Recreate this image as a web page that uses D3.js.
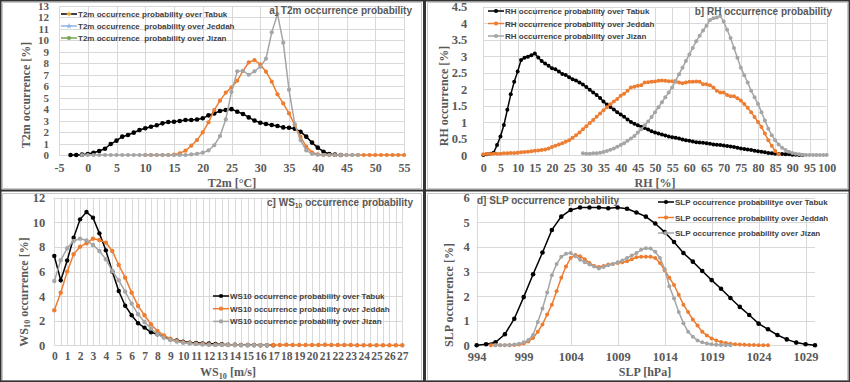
<!DOCTYPE html>
<html>
<head>
<meta charset="utf-8">
<script src="https://cdn.jsdelivr.net/npm/d3@7/dist/d3.min.js"></script>
<style>
  body { margin: 0; background: #fff; }
</style>
</head>
<body>
<div id="chart-area"></div>
<script>
// ---- a) T2m (one point per degree) ----
var t2mTicks = [-5, 0, 5, 10, 15, 20, 25, 30, 35, 40, 45, 50, 55];
var t2mYTicks = [0, 1, 2, 3, 4, 5, 6, 7, 8, 9, 10, 11, 12, 13];
var t2mTabukStart = -3;
var t2mTabuk = [0, 0, 0.03, 0.08, 0.2, 0.35, 0.55, 0.96, 1.25, 1.6, 1.74, 1.95, 2.18, 2.33, 2.47, 2.6, 2.76,
  2.88, 2.9, 2.97, 3.05, 3.05, 3.1, 3.2, 3.46, 3.63, 3.84, 3.92, 4.0, 3.78, 3.58, 3.28, 3.0, 2.82, 2.7,
  2.62, 2.53, 2.41, 2.38, 2.3, 2.03, 1.6, 1.08, 0.64, 0.29, 0.09, 0.03, 0];
var t2mJeddahStart = 10;
var t2mJeddah = [0, 0, 0, 0, 0, 0.03, 0.15, 0.38, 0.81, 1.3, 1.98, 2.85, 3.92, 4.74, 5.44, 5.9, 6.48, 7.33,
  8.08, 8.28, 7.9, 7.27, 6.4, 5.29, 4.5, 3.63, 2.62, 1.6, 0.73, 0.23, 0.06, 0, 0, 0, 0, 0, 0, 0, 0, 0, 0,
  0, 0, 0, 0, 0];
var t2mJizanStart = -1;
var t2mJizan = [0, 0, 0, 0, 0, 0, 0, 0, 0, 0, 0, 0, 0, 0, 0, 0, 0, 0, 0, 0.05, 0.1, 0.2, 0.4, 0.85, 1.65,
  3.1, 5.5, 7.3, 7.35, 7.0, 7.3, 7.7, 8.4, 10.7, 12.3, 9.8, 5.7, 2.7, 1.3, 0.4, 0.1, 0.03, 0, 0, 0, 0, 0, 0, 0];

// ---- b) RH (one point per percent) ----
var rhTicks = [0, 5, 10, 15, 20, 25, 30, 35, 40, 45, 50, 55, 60, 65, 70, 75, 80, 85, 90, 95, 100];
var rhYTicks = [0, 0.5, 1, 1.5, 2, 2.5, 3, 3.5, 4, 4.5];
var rhTabukStart = 0;
var rhTabuk = [0, 0.02, 0.04, 0.07, 0.3, 0.56, 0.91, 1.37, 1.84, 2.22, 2.53, 2.88, 2.95, 2.98, 3.03, 3.08,
  2.96, 2.85, 2.78, 2.71, 2.63, 2.6, 2.53, 2.46, 2.43, 2.36, 2.3, 2.26, 2.2, 2.14, 2.06, 1.98, 1.9, 1.82,
  1.73, 1.62, 1.53, 1.46, 1.38, 1.3, 1.23, 1.16, 1.08, 1.0, 0.95, 0.9, 0.86, 0.82, 0.77, 0.72, 0.68, 0.65,
  0.62, 0.59, 0.56, 0.54, 0.52, 0.5, 0.47, 0.45, 0.43, 0.41, 0.39, 0.38, 0.37, 0.36, 0.34, 0.32, 0.31, 0.3,
  0.29, 0.27, 0.26, 0.24, 0.22, 0.2, 0.18, 0.17, 0.15, 0.13, 0.11, 0.1, 0.08, 0.06, 0.05, 0.04, 0.03, 0.03,
  0.02, 0.02, 0.01, 0.01, 0, 0];
var rhJeddahStart = 0;
var rhJeddah = [0.02, 0.03, 0.03, 0.04, 0.04, 0.04, 0.05, 0.05, 0.06, 0.06, 0.07, 0.08, 0.09, 0.1, 0.11,
  0.13, 0.14, 0.15, 0.17, 0.2, 0.24, 0.28, 0.32, 0.36, 0.4, 0.45, 0.52, 0.6, 0.68, 0.78, 0.87, 0.97, 1.06,
  1.16, 1.26, 1.36, 1.45, 1.54, 1.62, 1.7, 1.8, 1.86, 1.95, 2.05, 2.07, 2.1, 2.12, 2.2, 2.21, 2.22, 2.23,
  2.25, 2.26, 2.25, 2.24, 2.24, 2.22, 2.2, 2.18, 2.2, 2.22, 2.22, 2.23, 2.22, 2.15, 2.15, 2.12, 2.05, 1.95,
  1.9, 1.9, 1.82, 1.78, 1.78, 1.72, 1.65, 1.55, 1.43, 1.3, 1.15, 1.0, 0.85, 0.65, 0.45, 0.28, 0.12, 0.02];
var rhJizanStart = 29;
var rhJizan = [0.05, 0.04, 0.04, 0.05, 0.05, 0.07, 0.09, 0.12, 0.16, 0.2, 0.25, 0.3, 0.36, 0.43, 0.5, 0.58,
  0.68, 0.78, 0.9, 1.02, 1.15, 1.3, 1.45, 1.6, 1.75, 1.9, 2.05, 2.25, 2.45, 2.65, 2.85, 3.05, 3.25, 3.45,
  3.62, 3.78, 3.92, 4.1, 4.15, 4.17, 4.22, 4.05, 3.8, 3.55, 3.25, 2.95, 2.65, 2.42, 2.2, 1.95, 1.75, 1.55,
  1.3, 1.05, 0.8, 0.6, 0.45, 0.32, 0.22, 0.15, 0.1, 0.06, 0.04, 0.02, 0.01, 0, 0, 0, 0, 0, 0, 0];

// ---- c) WS10 (one point per 0.5 m/s) ----
var wsTicks = [0, 1, 2, 3, 4, 5, 6, 7, 8, 9, 10, 11, 12, 13, 14, 15, 16, 17, 18, 19, 20, 21, 22, 23, 24, 25, 26, 27];
var wsYTicks = [0, 2, 4, 6, 8, 10, 12];
var wsTabuk = [7.26, 5.28, 6.9, 8.75, 10.24, 10.84, 10.38, 9.1, 7.72, 6.0, 4.42, 3.22, 2.44, 1.79, 1.44,
  1.06, 0.9, 0.7, 0.5, 0.4, 0.3, 0.22, 0.2, 0.16, 0.15, 0.1, 0.08, 0.05, 0.04, 0.03, 0.02, 0.02, 0.01, 0.01, 0];
var wsJeddah = [2.85, 4.28, 5.99, 7.4, 8.02, 8.29, 8.67, 8.56, 8.35, 7.67, 6.53, 5.5, 4.28, 3.2, 2.44, 1.71,
  1.17, 0.81, 0.54, 0.35, 0.25, 0.18, 0.12, 0.1, 0.07, 0.05, 0.04, 0.03, 0.02, 0.02, 0.01, 0.01, 0.01, 0,
  0.03, 0.03, 0.04, 0.03, 0.03, 0.02, 0.02, 0.03, 0.04, 0.02, 0.02, 0.02, 0.02, 0.01, 0.01, 0.01, 0.01, 0,
  0, 0, 0];
var wsJizan = [5.23, 6.91, 7.89, 8.48, 8.67, 8.53, 8.16, 7.67, 6.99, 6.04, 5.28, 4.36, 3.39, 2.52, 1.9,
  1.36, 0.9, 0.62, 0.43, 0.3, 0.2, 0.15, 0.1, 0.07, 0.05, 0.03, 0.02, 0.02, 0.01, 0.01, 0, 0, 0, 0];

// ---- d) SLP (Tabuk per 1 hPa, Jeddah/Jizan per 0.5 hPa) ----
var slpTicks = [994, 999, 1004, 1009, 1014, 1019, 1024, 1029];
var slpYTicks = [0, 1, 2, 3, 4, 5, 6];
var slpTabukStart = 994;
var slpTabuk = [0, 0.04, 0.12, 0.45, 1.08, 1.96, 2.89, 3.77, 4.69, 5.23, 5.5, 5.6, 5.6, 5.6, 5.57, 5.6,
  5.55, 5.4, 5.23, 4.95, 4.6, 4.2, 3.75, 3.4, 3.02, 2.65, 2.3, 1.92, 1.56, 1.23, 0.88, 0.65, 0.42, 0.24,
  0.11, 0.04, 0];
var slpJeddahStart = 995.5;
var slpJeddah = [0, 0, 0, 0, 0, 0.01, 0.03, 0.07, 0.15, 0.3, 0.55, 0.85, 1.25, 1.65, 2.2, 2.75, 3.2, 3.55,
  3.67, 3.62, 3.5, 3.35, 3.22, 3.18, 3.22, 3.28, 3.3, 3.35, 3.38, 3.42, 3.5, 3.58, 3.6, 3.6, 3.6, 3.55,
  3.35, 3.05, 2.75, 2.45, 2.05, 1.65, 1.35, 1.05, 0.8, 0.55, 0.4, 0.28, 0.2, 0.13, 0.09, 0.06, 0.04, 0.03,
  0.02, 0.01, 0.01, 0, 0, 0];
var slpJizanStart = 996;
var slpJizan = [0, 0, 0, 0.01, 0.03, 0.06, 0.12, 0.22, 0.42, 0.95, 1.5, 2.15, 2.85, 3.3, 3.6, 3.72, 3.75,
  3.62, 3.48, 3.38, 3.28, 3.2, 3.12, 3.18, 3.25, 3.3, 3.38, 3.45, 3.55, 3.65, 3.75, 3.88, 3.95, 3.93, 3.8,
  3.55, 3.1, 2.4, 1.9, 1.35, 0.9, 0.55, 0.35, 0.2, 0.12, 0.07, 0.04, 0.02, 0.01, 0, 0];

var BLACK = '#000000', ORANGE = '#ED7D31', GRAY = '#A5A5A5';
var TEXT = '#595959', GRID = '#d9d9d9';
var serif = '"Liberation Serif", "Times New Roman", serif';
var sans = '"Liberation Sans", Arial, sans-serif';

var svg = d3.select('#chart-area')
  .append('svg')
    .attr('width', 850)
    .attr('height', 382)
    .style('display', 'block');

svg.append('rect').attr('width', 850).attr('height', 382).attr('fill', '#fff');

var panels = [
  {
    box: [2, 2, 419, 186],
    xDomain: [-5, 55], xRange: [59, 404], yDomain: [0, 13], yRange: [155, 6],
    xTicks: t2mTicks, yTicks: t2mYTicks, xGrid: t2mTicks, yGrid: t2mYTicks,
    xPad: 8, yPad: 10, xTickSize: 12, yTickSize: 11,
    yTitle: [{ t: 'T2m occurrence [%]' }], yTitlePos: [27, 95],
    xTitle: [{ t: 'T2m [°C]' }], xTitlePos: [232, 187],
    title: [{ t: 'a] T2m occurrence probability' }], titlePos: [412, 14], titleAnchor: 'end',
    series: [
      { name: 'T2m occurrence probability over Tabuk', start: t2mTabukStart, step: 1, values: t2mTabuk, color: BLACK, r: 2.3 },
      { name: 'T2m occurrence  probability over Jeddah', start: t2mJeddahStart, step: 1, values: t2mJeddah, color: ORANGE, r: 2.1 },
      { name: 'T2m occurrence  probability over Jizan', start: t2mJizanStart, step: 1, values: t2mJizan, color: GRAY, r: 2.1 }
    ],
    legend: { x: 61, y: 14, dy: 12, len: 16,
      lineColors: ['#000000', '#8FB4E3', '#77A353'],
      markColors: ['#F2B134', '#8FB4E3', '#77A353'],
      marks: ['cross', 'star', 'circle'] }
  },
  {
    box: [427, 2, 420, 186],
    xDomain: [0, 100], xRange: [483.3, 826.7], yDomain: [0, 4.5], yRange: [155, 6.7],
    xTicks: rhTicks, yTicks: rhYTicks, xGrid: rhTicks, yGrid: rhYTicks,
    xPad: 8, yPad: 16, xTickSize: 12, yTickSize: 12.5,
    yTitle: [{ t: 'RH occurrence [%]' }], yTitlePos: [445, 96],
    xTitle: [{ t: 'RH [%]' }], xTitlePos: [655, 187],
    title: [{ t: 'b] RH occurrence probability' }], titlePos: [832, 15], titleAnchor: 'end',
    series: [
      { name: 'RH occurrence probability over Tabuk', start: rhTabukStart, step: 1, values: rhTabuk, color: BLACK, r: 2 },
      { name: 'RH occurrence probability over Jeddah', start: rhJeddahStart, step: 1, values: rhJeddah, color: ORANGE, r: 2 },
      { name: 'RH occurrence probability over Jizan', start: rhJizanStart, step: 1, values: rhJizan, color: GRAY, r: 2 }
    ],
    legend: { x: 488, y: 11, dy: 12.5, len: 16 }
  },
  {
    box: [2, 193, 419, 187],
    xDomain: [0, 27], xRange: [54.3, 402.3], yDomain: [0, 12], yRange: [345.3, 197.7],
    xTicks: wsTicks, yTicks: wsYTicks, xGrid: d3.range(0, 27.01, 0.5), yGrid: wsYTicks,
    xPad: 7, yPad: 9, xTickSize: 11.5, yTickSize: 12.5,
    yTitle: [{ t: 'WS' }, { t: '10', sub: true }, { t: ' occurrence [%]' }], yTitlePos: [25, 292],
    xTitle: [{ t: 'WS' }, { t: '10', sub: true }, { t: ' [m/s]' }], xTitlePos: [228, 376],
    title: [{ t: 'c] WS' }, { t: '10', sub: true }, { t: ' occurrence probability' }], titlePos: [413, 206], titleAnchor: 'end',
    series: [
      { name: 'WS10 occurrence probability over Tabuk', start: 0, step: 0.5, values: wsTabuk, color: BLACK, r: 2.2 },
      { name: 'WS10 occurrence probability over Jeddah', start: 0, step: 0.5, values: wsJeddah, color: ORANGE, r: 2.2 },
      { name: 'WS10 occurrence probability over Jizan', start: 0, step: 0.5, values: wsJizan, color: GRAY, r: 2.2 }
    ],
    legend: { x: 213, y: 296, dy: 12.7, len: 16 }
  },
  {
    box: [427, 193, 420, 187],
    xDomain: [994, 1030], xRange: [476.7, 815], yDomain: [0, 6], yRange: [345.3, 197.7],
    xTicks: slpTicks, yTicks: slpYTicks, xGrid: slpTicks, yGrid: slpYTicks,
    xPad: 7, yPad: 7, xTickSize: 12.5, yTickSize: 12.5,
    yTitle: [{ t: 'SLP occurrence [%]' }], yTitlePos: [450, 295],
    xTitle: [{ t: 'SLP [hPa]' }], xTitlePos: [645, 376],
    title: [{ t: 'd] SLP occurrence probability' }], titlePos: [477, 204], titleAnchor: 'start',
    series: [
      { name: 'SLP occurrence probabilitye over Tabuk', start: slpTabukStart, step: 1, values: slpTabuk, color: BLACK, r: 2.3 },
      { name: 'SLP occurrence probability over Jeddah', start: slpJeddahStart, step: 0.5, values: slpJeddah, color: ORANGE, r: 2 },
      { name: 'SLP occurrence probability over Jizan', start: slpJizanStart, step: 0.5, values: slpJizan, color: GRAY, r: 2 }
    ],
    legend: { x: 658, y: 202, dy: 15.5, len: 16 }
  }
];

// text with optional subscript pieces
function richText(sel, parts, size) {
  var shifted = false;
  parts.forEach(function(p) {
    var ts = sel.append('tspan').text(p.t);
    if (p.sub) {
      ts.attr('font-size', size * 0.68).attr('dy', size * 0.22);
      shifted = true;
    } else if (shifted) {
      ts.attr('dy', -size * 0.22);
      shifted = false;
    }
  });
}

panels.forEach(function(p) {
  var g = svg.append('g');

  g.append('rect')
    .attr('x', p.box[0] + 0.5).attr('y', p.box[1] + 0.5)
    .attr('width', p.box[2]).attr('height', p.box[3])
    .attr('fill', 'none').attr('stroke', '#c8c8c8');

  var x = d3.scaleLinear().domain(p.xDomain).range(p.xRange);
  var y = d3.scaleLinear().domain(p.yDomain).range(p.yRange);

  // gridlines
  g.selectAll('.hgrid').data(p.yGrid).enter().append('line')
    .attr('x1', p.xRange[0]).attr('x2', p.xRange[1])
    .attr('y1', function(d) { return Math.round(y(d)) + 0.5; })
    .attr('y2', function(d) { return Math.round(y(d)) + 0.5; })
    .attr('stroke', GRID).attr('stroke-width', 1);
  g.selectAll('.vgrid').data(p.xGrid).enter().append('line')
    .attr('x1', function(d) { return Math.round(x(d)) + 0.5; })
    .attr('x2', function(d) { return Math.round(x(d)) + 0.5; })
    .attr('y1', p.yRange[1]).attr('y2', p.yRange[0])
    .attr('stroke', GRID).attr('stroke-width', 1);

  // axes
  var xAxisCall = d3.axisBottom(x).tickValues(p.xTicks).tickSize(0).tickPadding(p.xPad)
    .tickFormat(function(d) { return d; });
  g.append('g')
    .attr('class', 'x-axis')
    .attr('transform', 'translate(0,' + p.yRange[0] + ')')
    .call(xAxisCall)
    .call(function(a) { a.select('.domain').remove(); })
    .selectAll('text')
      .attr('fill', TEXT).attr('font-family', serif).attr('font-weight', 'bold')
      .attr('font-size', p.xTickSize);

  var yAxisCall = d3.axisLeft(y).tickValues(p.yTicks).tickSize(0).tickPadding(p.yPad)
    .tickFormat(function(d) { return d; });
  g.append('g')
    .attr('class', 'y-axis')
    .attr('transform', 'translate(' + p.xRange[0] + ',0)')
    .call(yAxisCall)
    .call(function(a) { a.select('.domain').remove(); })
    .selectAll('text')
      .attr('fill', TEXT).attr('font-family', serif).attr('font-weight', 'bold')
      .attr('font-size', p.yTickSize);

  // axis titles
  var yt = g.append('text')
    .attr('transform', 'translate(' + p.yTitlePos[0] + ',' + p.yTitlePos[1] + ') rotate(-90)')
    .attr('text-anchor', 'middle').attr('dominant-baseline', 'middle')
    .attr('fill', TEXT).attr('font-family', serif).attr('font-weight', 'bold').attr('font-size', 12);
  richText(yt, p.yTitle, 12);
  var xt = g.append('text')
    .attr('x', p.xTitlePos[0]).attr('y', p.xTitlePos[1])
    .attr('text-anchor', 'middle')
    .attr('fill', TEXT).attr('font-family', serif).attr('font-weight', 'bold').attr('font-size', 12);
  richText(xt, p.xTitle, 12);

  // series
  var line = d3.line().x(function(d) { return x(d.x); }).y(function(d) { return y(d.y); });
  p.series.forEach(function(s) {
    var pts = s.values.map(function(v, i) { return { x: s.start + i * s.step, y: v }; });
    g.append('path').datum(pts)
      .attr('d', line).attr('fill', 'none')
      .attr('stroke', s.color).attr('stroke-width', 1.5);
    g.append('g').selectAll('circle').data(pts).enter().append('circle')
      .attr('cx', function(d) { return x(d.x); })
      .attr('cy', function(d) { return y(d.y); })
      .attr('r', s.r).attr('fill', s.color);
  });

  // panel title
  var tt = g.append('text')
    .attr('x', p.titlePos[0]).attr('y', p.titlePos[1])
    .attr('text-anchor', p.titleAnchor)
    .attr('fill', TEXT).attr('font-family', sans).attr('font-weight', 'bold').attr('font-size', 10);
  richText(tt, p.title, 10);

  // legend
  var L = p.legend;
  p.series.forEach(function(s, i) {
    var ly = L.y + i * L.dy;
    var lc = L.lineColors ? L.lineColors[i] : s.color;
    var mc = L.markColors ? L.markColors[i] : s.color;
    var mk = L.marks ? L.marks[i] : 'circle';
    var lg = g.append('g');
    lg.append('line')
      .attr('x1', L.x).attr('x2', L.x + L.len).attr('y1', ly).attr('y2', ly)
      .attr('stroke', lc).attr('stroke-width', 1.5);
    var sym = mk === 'cross' ? d3.symbolCross : (mk === 'star' ? d3.symbolStar : d3.symbolCircle);
    lg.append('path')
      .attr('d', d3.symbol().type(sym).size(mk === 'circle' ? 14 : 12)())
      .attr('transform', 'translate(' + (L.x + L.len / 2) + ',' + ly + ')')
      .attr('fill', mc);
    lg.append('text')
      .attr('x', L.x + L.len + 1).attr('y', ly + 3)
      .attr('fill', '#404040').attr('font-family', sans).attr('font-weight', 'bold')
      .attr('font-size', 8)
      .style('white-space', 'pre')
      .text(s.name);
  });
});

// dark frame and dividers
svg.append('rect').attr('x', 0.75).attr('y', 0.75).attr('width', 848.5).attr('height', 380.5)
  .attr('fill', 'none').attr('stroke', '#333').attr('stroke-width', 1.5);
svg.append('line').attr('x1', 424.5).attr('x2', 424.5).attr('y1', 0).attr('y2', 382)
  .attr('stroke', '#333').attr('stroke-width', 3);
svg.append('line').attr('x1', 0).attr('x2', 850).attr('y1', 190.5).attr('y2', 190.5)
  .attr('stroke', '#333').attr('stroke-width', 2);
</script>
</body>
</html>
